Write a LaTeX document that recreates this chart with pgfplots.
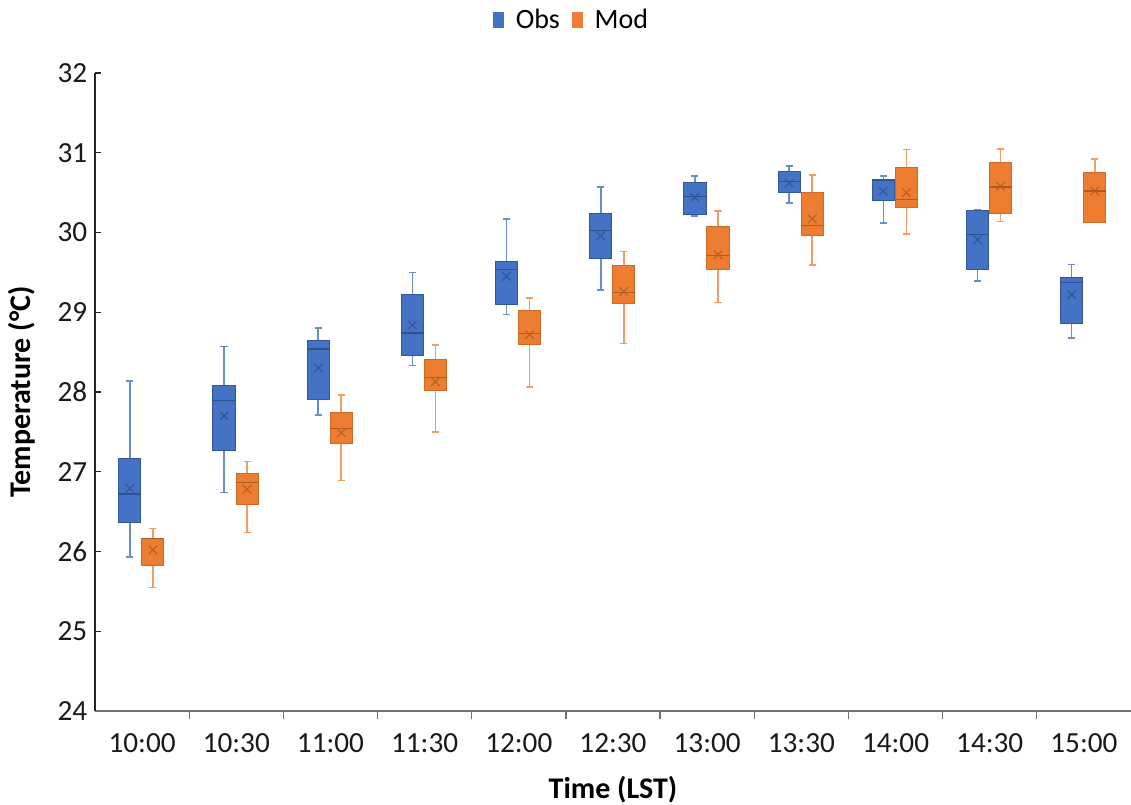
\documentclass[border=0pt]{standalone}
\usepackage{fontspec}
\setmainfont{Carlito}
\usepackage{pgfplots}
\pgfplotsset{compat=1.18}
\usepgfplotslibrary{statistics}
\definecolor{obsF}{HTML}{4472C4}
\definecolor{obsE}{HTML}{2F528F}
\definecolor{modF}{HTML}{ED7D31}
\definecolor{modE}{HTML}{AE5A21}
\pgfplotsset{
  bx/.style={forget plot, line width=0.5pt,
    boxplot/draw direction=y,
    boxplot/box extend=0.235, boxplot/whisker extend=0.075},
  obs/.style={bx, draw=obsE!80!obsF, fill=obsF,
    boxplot/every whisker/.style={draw=obsF!80!white, line width=0.8pt},
    boxplot/every median/.style={draw=obsE, line width=0.6pt}},
  mod/.style={bx, draw=modE!50!modF, fill=modF,
    boxplot/every whisker/.style={draw=modF!75!white, line width=0.8pt},
    boxplot/every median/.style={draw=modE, line width=0.6pt}},
}
\newcommand{\obsbox}[6]{\addplot[obs, boxplot prepared={draw position=#1, lower whisker=#2, lower quartile=#3, median=#4, upper quartile=#5, upper whisker=#6}] coordinates {};}
\newcommand{\modbox}[6]{\addplot[mod, boxplot prepared={draw position=#1, lower whisker=#2, lower quartile=#3, median=#4, upper quartile=#5, upper whisker=#6}] coordinates {};}
\begin{document}
\begin{tikzpicture}
\begin{axis}[name=ax,
  scale only axis, width=518pt, height=319pt,
  xmin=-0.5, xmax=10.5, ymin=24, ymax=32,
  boxplot/draw direction=y,
  axis x line*=bottom, axis y line*=left,
  x axis line style={draw=black!55, line width=0.6pt},
  y axis line style={draw=black!85, line width=0.7pt},
  xtick={0,...,10},
  xticklabels={10:00,10:30,11:00,11:30,12:00,12:30,13:00,13:30,14:00,14:30,15:00},
  minor xtick={0.5,1.5,...,9.5},
  major x tick style={draw=none},
  minor x tick style={draw=black!55, line width=0.6pt},
  minor tick length=4pt,
  ytick={24,...,32},
  major y tick style={draw=black!85, line width=0.7pt},
  major tick length=2.8pt,
  xtick align=outside,
  ytick align=inside,
  /pgf/number format/assume math mode=true,
  tick label style={font=\fontsize{14.6}{17}\selectfont, text=black!90},
  xticklabel style={yshift=-5pt},
  yticklabel style={xshift=-0.4pt},
  xlabel={Time (LST)},
  ylabel={Temperature (°C)},
  every axis x label/.style={at={(rel axis cs:0.5,0)}, anchor=center, yshift=-39.5pt, font=\fontsize{15}{18}\selectfont\bfseries},
  every axis y label/.style={at={(rel axis cs:-0.0705,0.5)}, anchor=center, rotate=90, font=\fontsize{15}{18}\selectfont\bfseries},
  legend style={at={(rel axis cs:0.461,1)}, anchor=center, yshift=26.5pt, draw=none, fill=none,
    font=\fontsize{14}{16}\selectfont, column sep=4pt, inner sep=0pt},
  legend columns=2,
  legend cell align=left,
]
\obsbox{-0.13}{25.93}{26.36}{26.72}{27.16}{28.14}
\obsbox{0.87}{26.74}{27.27}{27.89}{28.08}{28.57}
\obsbox{1.87}{27.71}{27.91}{28.54}{28.64}{28.80}
\obsbox{2.87}{28.33}{28.46}{28.74}{29.22}{29.50}
\obsbox{3.87}{28.97}{29.10}{29.54}{29.63}{30.17}
\obsbox{4.87}{29.28}{29.67}{30.02}{30.24}{30.57}
\obsbox{5.87}{30.21}{30.23}{30.45}{30.63}{30.71}
\obsbox{6.87}{30.37}{30.50}{30.64}{30.77}{30.83}
\obsbox{7.87}{30.12}{30.40}{30.65}{30.67}{30.71}
\obsbox{8.87}{29.39}{29.53}{29.97}{30.28}{30.28}
\obsbox{9.87}{28.68}{28.86}{29.37}{29.43}{29.60}
\modbox{0.115}{25.55}{25.83}{26.16}{26.16}{26.29}
\modbox{1.115}{26.24}{26.59}{26.87}{26.98}{27.13}
\modbox{2.115}{26.89}{27.36}{27.54}{27.74}{27.96}
\modbox{3.115}{27.50}{28.02}{28.18}{28.41}{28.59}
\modbox{4.115}{28.06}{28.59}{28.73}{29.02}{29.18}
\modbox{5.115}{28.61}{29.11}{29.25}{29.58}{29.76}
\modbox{6.115}{29.12}{29.54}{29.71}{30.08}{30.27}
\modbox{7.115}{29.59}{29.96}{30.09}{30.50}{30.72}
\modbox{8.115}{29.98}{30.31}{30.41}{30.82}{31.04}
\modbox{9.115}{30.14}{30.24}{30.57}{30.88}{31.05}
\modbox{10.115}{30.13}{30.13}{30.52}{30.75}{30.92}
% means
\addplot[forget plot, only marks, mark=x, mark size=3pt, draw=obsE, line width=0.6pt, opacity=0.8]
 coordinates {(-0.13,26.79) (0.87,27.70) (1.87,28.30) (2.87,28.84) (3.87,29.45) (4.87,29.96)
  (5.87,30.44) (6.87,30.62) (7.87,30.52) (8.87,29.91) (9.87,29.22)};
\addplot[forget plot, only marks, mark=x, mark size=3pt, draw=modE, line width=0.6pt, opacity=0.8]
 coordinates {(0.115,26.02) (1.115,26.78) (2.115,27.49) (3.115,28.13) (4.115,28.72) (5.115,29.26)
  (6.115,29.72) (7.115,30.17) (8.115,30.50) (9.115,30.58) (10.115,30.52)};
\addlegendimage{legend image code/.code={\fill[obsF] (0pt,-3.8pt) rectangle (5pt,3.8pt);}}
\addlegendentry{Obs}
\addlegendimage{legend image code/.code={\fill[modF] (0pt,-3.8pt) rectangle (5pt,3.8pt);}}
\addlegendentry{Mod}
\end{axis}
\pgfresetboundingbox
\path ([xshift=-47.5pt,yshift=-47pt]ax.south west) rectangle ([yshift=36.5pt]ax.north east);
\end{tikzpicture}
\end{document}
